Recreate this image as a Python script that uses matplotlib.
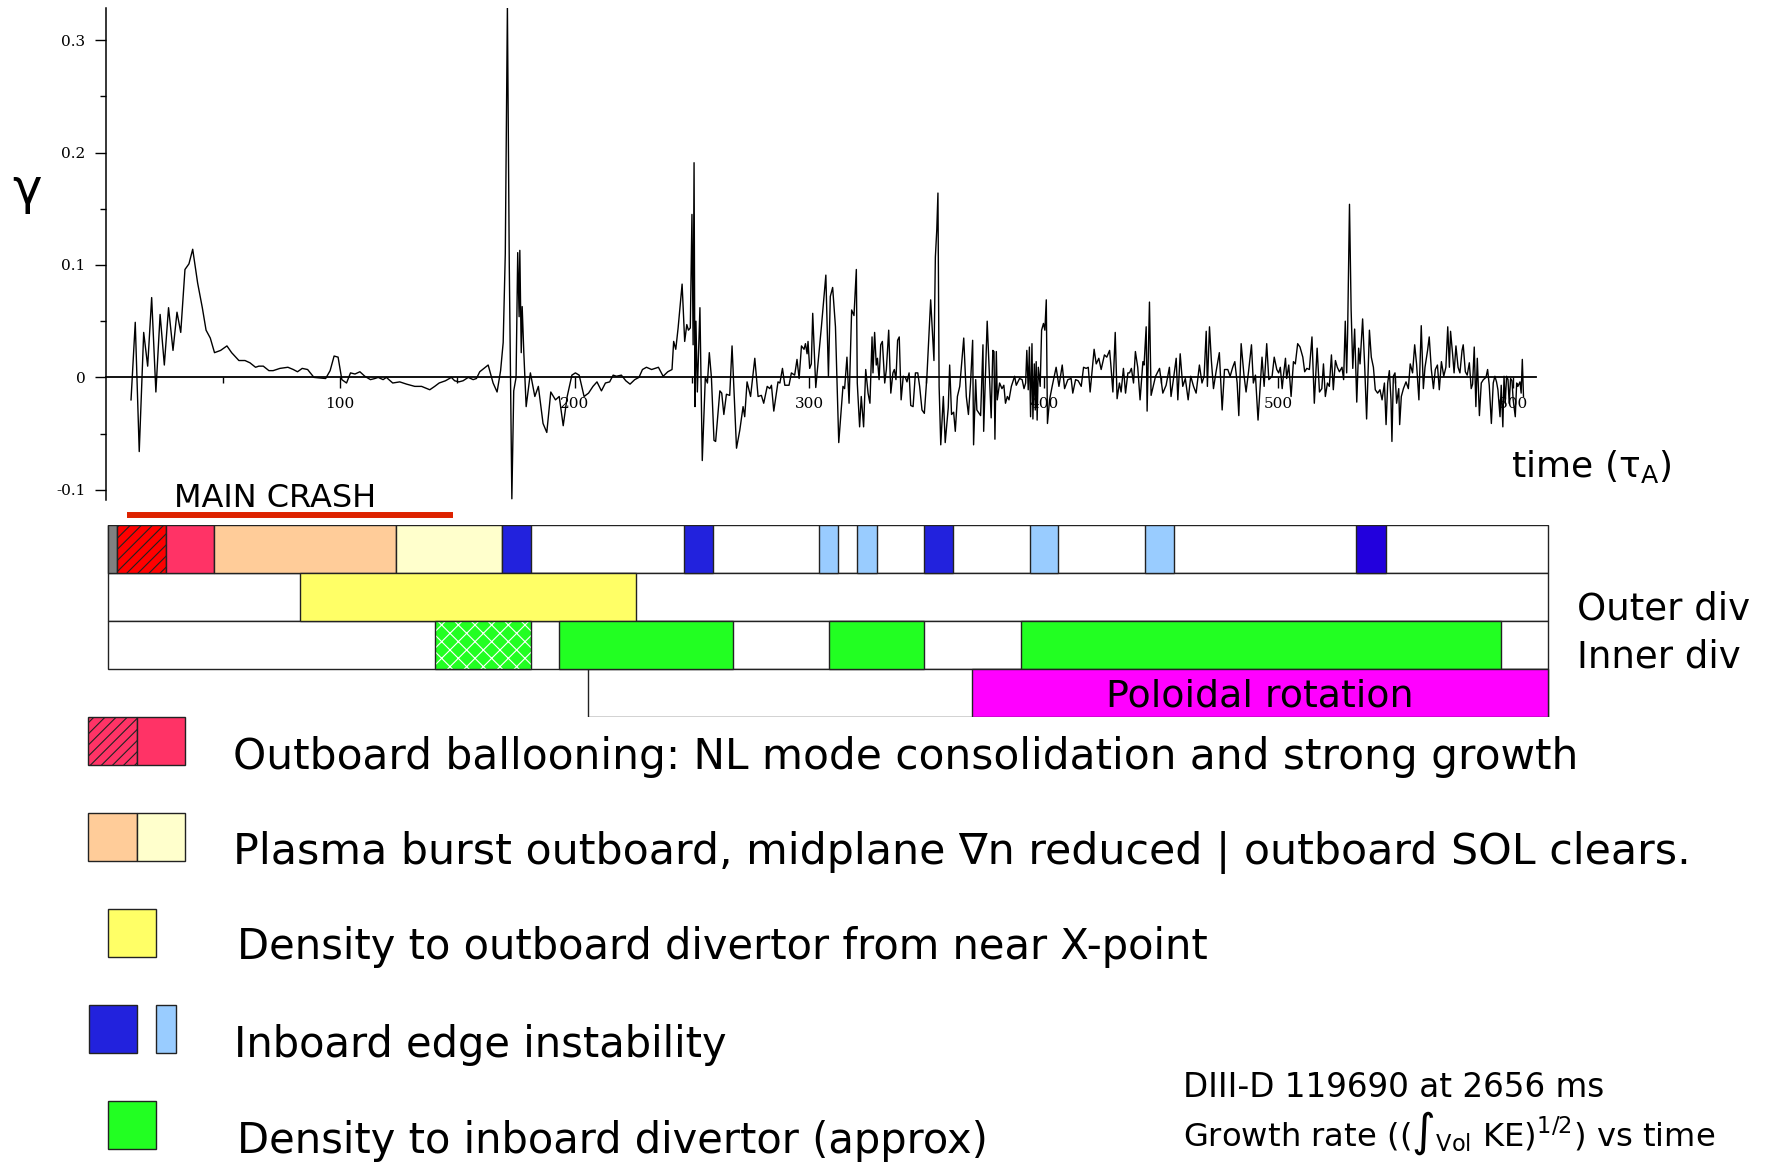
import matplotlib
matplotlib.use("Agg")
import matplotlib.pyplot as plt
from matplotlib.patches import Rectangle

# Growth rate gamma vs time (tau_A), DIII-D 119690 at 2656 ms
time = [
    10.8, 12.6, 14.3, 16.2, 17.9, 19.6, 21.4, 23.2, 25.0, 26.8,
    28.7, 30.4, 32.0, 33.8, 35.5, 37.1, 39.2, 41.2, 42.8, 44.6,
    46.4, 49.0, 51.7, 53.7, 56.8, 59.4, 61.5, 63.9, 65.3, 67.2,
    69.6, 71.4, 74.3, 77.7, 80.0, 81.8, 83.8, 86.1, 88.8, 93.8,
    95.7, 97.4, 99.1, 100.7, 102.7, 104.4, 106.3, 108.4, 110.5, 112.9,
    114.8, 116.2, 118.3, 119.7, 122.4, 125.4, 128.3, 131.8, 134.7, 138.2,
    140.3, 142.2, 144.9, 147.4, 148.8, 150.6, 152.4, 154.6, 156.7, 158.1,
    159.5, 163.1, 165.2, 166.9, 168.4, 169.5, 170.4, 171.3, 172.1, 173.2,
    174.0, 175.0, 175.7, 176.3, 176.6, 177.2, 177.6, 178.3, 179.3, 181.1,
    183.0, 184.5, 186.5, 188.1, 189.8, 191.8, 193.4, 195.1, 196.8, 198.8,
    200.3, 201.9, 204.0, 205.9, 207.8, 209.5, 211.4, 213.1, 214.9, 216.4,
    217.8, 219.9, 221.8, 223.6, 225.6, 227.4, 228.9, 230.6, 232.8, 235.7,
    237.7, 239.7, 241.5, 242.2, 243.1, 244.1, 245.8, 246.9, 247.8, 248.5,
    249.3, 250.0, 250.5, 250.9, 251.3, 251.7, 252.3, 253.4, 254.4, 255.7,
    256.6, 257.4, 258.3, 259.4, 260.1, 261.9, 262.7, 263.6, 264.7, 266.1,
    267.1, 269.0, 270.4, 271.8, 272.5, 273.5, 275.0, 276.8, 278.2, 279.6,
    280.6, 282.1, 283.2, 283.9, 284.9, 286.7, 287.5, 288.6, 289.6, 291.4,
    292.4, 293.8, 294.8, 295.7, 296.7, 297.8, 298.4, 299.1, 299.5, 300.2,
    300.9, 301.5, 302.8, 305.2, 307.1, 308.2, 309.0, 310.0, 311.2, 312.6,
    314.4, 315.1, 316.1, 317.0, 318.1, 319.1, 320.1, 320.5, 321.5, 322.2,
    323.2, 324.1, 325.1, 325.9, 326.8, 327.2, 327.9, 328.6, 329.1, 329.8,
    330.5, 331.2, 332.2, 332.9, 333.9, 334.8, 335.7, 336.3, 337.0, 337.7,
    338.4, 339.2, 340.1, 341.0, 341.7, 342.6, 343.3, 344.3, 345.3, 346.3,
    347.1, 348.1, 349.1, 350.2, 351.8, 353.2, 353.8, 354.4, 354.9, 355.4,
    356.1, 357.2, 358.0, 359.3, 359.9, 360.7, 361.6, 362.3, 363.2, 364.2,
    365.9, 367.0, 367.9, 368.8, 369.7, 370.1, 371.0, 371.5, 373.1, 374.1,
    374.4, 375.9, 377.6, 378.3, 378.8, 379.2, 379.8, 380.2, 381.2, 382.2,
    383.0, 383.7, 384.5, 385.2, 386.2, 387.6, 388.3, 389.7, 390.8, 391.6,
    392.3, 392.8, 393.4, 393.9, 394.4, 395.0, 395.4, 396.0, 396.4, 396.8,
    397.2, 397.7, 398.5, 399.1, 399.9, 400.5, 401.1, 401.6, 402.5, 403.6,
    405.3, 406.5, 407.9, 408.9, 410.3, 411.7, 412.4, 413.6, 414.7, 416.0,
    417.0, 418.1, 419.0, 419.8, 421.5, 422.4, 423.5, 424.5, 425.9, 426.9,
    428.1, 428.6, 429.5, 430.5, 431.3, 432.3, 433.0, 434.0, 434.9, 435.9,
    436.6, 437.4, 438.3, 439.1, 440.1, 441.1, 442.3, 442.8, 443.7, 444.1,
    445.1, 445.8, 446.7, 447.7, 449.4, 450.8, 452.2, 453.6, 454.3, 455.3,
    456.5, 457.2, 458.2, 459.3, 460.4, 461.6, 462.7, 463.9, 465.0, 466.4,
    467.5, 468.4, 469.3, 469.8, 470.7, 471.5, 472.4, 473.5, 474.9, 476.1,
    477.1, 478.5, 479.5, 480.6, 481.5, 482.5, 483.2, 484.2, 485.4, 486.3,
    487.4, 488.6, 489.4, 490.3, 491.4, 493.1, 494.0, 495.1, 496.0, 497.4,
    498.3, 499.4, 500.2, 500.9, 501.7, 502.2, 503.1, 503.6, 504.5, 505.5,
    506.5, 507.3, 508.3, 509.3, 510.5, 511.3, 512.2, 513.3, 514.4, 515.4,
    516.6, 517.6, 518.6, 519.3, 520.1, 521.0, 521.8, 522.7, 523.5, 524.4,
    525.2, 526.1, 527.2, 527.9, 528.6, 529.2, 529.6, 530.4, 531.1, 531.8,
    532.6, 533.5, 534.3, 534.9, 536.0, 536.9, 537.7, 538.9, 539.7, 540.6,
    541.4, 542.4, 543.4, 544.3, 545.3, 546.0, 546.7, 547.4, 548.1, 548.5,
    549.1, 549.8, 550.5, 551.4, 551.8, 552.5, 553.4, 554.5, 555.5, 556.3,
    557.3, 558.2, 559.0, 560.0, 561.0, 561.9, 562.6, 563.7, 564.4, 565.3,
    566.2, 567.0, 567.9, 568.7, 569.6, 570.6, 571.5, 572.3, 573.0, 573.5,
    574.4, 575.0, 575.8, 576.7, 577.5, 578.4, 578.9, 579.8, 580.6, 581.5,
    582.3, 582.9, 583.6, 584.3, 584.9, 585.8, 586.6, 587.5, 588.6, 589.3,
    590.0, 590.9, 591.7, 592.4, 593.1, 593.7, 594.6, 595.1, 595.8, 596.3,
    596.8, 597.4, 598.0, 598.5, 599.1, 599.7, 600.2, 601.1, 601.7, 602.2,
    603.1, 603.6, 604.1, 604.6,
]
gamma = [
    -0.020, 0.049, -0.066, 0.040, 0.010, 0.071, -0.013, 0.056, 0.011, 0.062,
    0.024, 0.058, 0.040, 0.096, 0.101, 0.114, 0.084, 0.062, 0.042, 0.035,
    0.022, 0.024, 0.028, 0.022, 0.015, 0.015, 0.013, 0.009, 0.010, 0.010,
    0.006, 0.006, 0.008, 0.009, 0.007, 0.005, 0.008, 0.007, 0.000, -0.001,
    0.006, 0.019, 0.018, -0.002, -0.005, 0.004, 0.003, 0.005, 0.001, -0.002,
    -0.001, 0.000, -0.002, 0.000, -0.005, -0.004, -0.006, -0.008, -0.008, -0.011,
    -0.008, -0.005, -0.003, 0.000, -0.003, -0.004, -0.003, 0.000, -0.002, -0.001,
    0.005, 0.011, -0.005, -0.013, 0.006, 0.031, 0.110, 0.330, 0.100, -0.108,
    -0.012, 0.000, 0.111, 0.054, 0.113, 0.022, 0.063, 0.022, -0.026, 0.004,
    -0.017, -0.008, -0.041, -0.049, -0.013, -0.020, -0.017, -0.043, -0.017, 0.002,
    0.004, 0.002, -0.017, -0.014, -0.008, -0.004, -0.012, -0.005, -0.004, 0.002,
    0.001, 0.002, -0.003, -0.006, -0.002, 0.000, 0.007, 0.009, 0.007, 0.009,
    0.001, 0.005, 0.007, 0.032, 0.025, 0.044, 0.083, 0.032, 0.047, 0.042,
    0.044, 0.145, 0.029, 0.191, -0.026, 0.050, -0.013, 0.062, -0.074, 0.000,
    -0.005, 0.022, 0.000, -0.056, -0.057, -0.012, -0.014, -0.033, -0.015, -0.016,
    0.028, -0.063, -0.047, -0.026, -0.035, -0.004, -0.017, 0.017, -0.017, -0.016,
    -0.023, -0.008, -0.010, -0.007, -0.030, -0.004, -0.005, 0.008, -0.007, -0.007,
    0.004, 0.002, 0.016, -0.001, 0.028, 0.025, 0.030, 0.021, 0.032, 0.008,
    0.012, 0.057, -0.009, 0.045, 0.091, 0.001, 0.072, 0.080, 0.045, -0.058,
    -0.008, -0.010, 0.018, -0.023, 0.060, 0.055, 0.096, -0.005, -0.044, -0.017,
    -0.044, 0.007, -0.014, -0.023, 0.036, 0.004, 0.040, 0.011, 0.017, -0.002,
    0.029, 0.032, -0.005, 0.007, 0.042, -0.014, 0.004, 0.007, -0.002, 0.033,
    0.036, -0.020, 0.001, 0.000, -0.004, 0.004, -0.025, -0.026, 0.004, 0.004,
    -0.008, -0.029, -0.032, 0.001, 0.069, 0.015, 0.107, 0.131, 0.164, -0.008,
    -0.060, -0.017, -0.058, -0.027, 0.011, -0.033, -0.031, -0.048, -0.017, -0.008,
    0.035, -0.017, -0.033, -0.005, 0.033, -0.060, -0.002, -0.029, -0.034, 0.029,
    -0.048, 0.050, -0.036, 0.024, 0.023, -0.055, 0.023, -0.020, -0.005, -0.010,
    -0.007, -0.023, -0.017, -0.020, -0.008, 0.001, -0.007, -0.001, -0.002, -0.010,
    -0.005, 0.024, -0.011, 0.027, -0.035, 0.030, -0.037, 0.012, -0.029, 0.014,
    -0.038, 0.009, -0.008, 0.042, 0.048, 0.042, 0.069, -0.041, -0.020, -0.008,
    0.009, -0.008, 0.011, -0.010, -0.002, -0.001, -0.014, -0.002, -0.003, -0.008,
    0.009, 0.008, 0.009, -0.013, 0.025, 0.012, 0.017, 0.007, 0.020, 0.018,
    0.024, 0.012, -0.013, 0.040, -0.019, -0.005, -0.013, 0.008, -0.014, 0.004,
    0.004, 0.008, -0.005, 0.023, 0.009, -0.020, 0.014, 0.011, 0.045, -0.030,
    0.067, -0.016, -0.008, 0.001, 0.008, -0.014, -0.007, 0.009, -0.017, -0.002,
    0.017, -0.020, 0.021, -0.008, -0.001, -0.020, 0.001, -0.008, -0.014, 0.011,
    -0.005, 0.001, 0.041, -0.008, 0.045, 0.015, -0.010, 0.005, 0.022, -0.029,
    0.007, 0.007, 0.001, 0.009, 0.014, -0.005, -0.034, 0.030, 0.002, -0.013,
    0.006, 0.029, -0.005, 0.002, -0.038, 0.018, -0.008, 0.030, -0.002, 0.001,
    0.018, 0.007, 0.004, 0.009, -0.010, 0.001, 0.017, -0.001, 0.011, -0.017,
    0.014, 0.012, 0.030, 0.027, 0.018, 0.005, 0.008, 0.007, 0.036, -0.023,
    0.026, -0.013, -0.010, 0.012, -0.017, -0.005, -0.008, 0.020, -0.011, 0.015,
    0.009, 0.005, 0.009, -0.002, 0.050, 0.004, 0.039, 0.154, 0.060, 0.008,
    0.043, -0.022, 0.026, 0.012, 0.052, 0.009, -0.037, 0.042, 0.018, 0.009,
    -0.011, -0.014, -0.011, -0.020, -0.005, -0.042, -0.005, 0.006, -0.020, -0.057,
    0.001, 0.004, -0.023, -0.010, -0.042, -0.017, -0.010, -0.004, -0.010, 0.012,
    0.004, 0.029, 0.012, -0.020, 0.046, -0.010, 0.009, 0.024, 0.036, 0.007,
    -0.010, 0.007, 0.011, -0.011, 0.014, 0.001, 0.009, 0.045, 0.009, 0.041,
    0.020, 0.004, 0.028, 0.009, 0.004, 0.024, 0.029, 0.005, 0.002, 0.013,
    -0.010, -0.006, 0.027, -0.026, 0.017, -0.034, -0.005, -0.002, 0.000, 0.007,
    -0.007, -0.041, -0.005, 0.001, -0.004, -0.011, -0.035, -0.007, -0.044, 0.001,
    -0.023, 0.001, -0.002, -0.023, -0.001, -0.003, -0.020, -0.035, -0.005, -0.008,
    -0.004, -0.014, 0.016, -0.017,
]

# event timeline, (start, end) in tau_A
crash_span = (9.0, 148.0)
timeline_start = 0.8
timeline_end = 615.0
rotation_row_start = 205.7
startup = [(0.8, 5.0)]
ballooning_nl = [(5.0, 25.8)]
ballooning = [(25.8, 46.1)]
plasma_burst = [(46.1, 123.9)]
sol_clears = [(123.9, 169.0)]
inboard_edge = [(169.0, 181.2), (246.6, 259.0), (348.9, 361.4)]
inboard_edge_late = [(533.2, 545.8)]
inboard_edge_weak = [(304.1, 312.2), (320.5, 329.0), (394.2, 406.3), (443.3, 455.4)]
outer_div = [(83.0, 226.3)]
inner_div_onset = [(140.3, 181.2)]
inner_div = [(193.4, 267.4), (308.3, 348.9), (390.2, 594.9)]
rotation = [(369.6, 615.0)]

legend_labels = [
    "Outboard ballooning: NL mode consolidation and strong growth",
    "Plasma burst outboard, midplane \u2207n reduced | outboard SOL clears.",
    "Density to outboard divertor from near X-point",
    "Inboard edge instability",
    "Density to inboard divertor (approx)",
]

plt.rcParams["font.family"] = ["DejaVu Sans"]
plt.rcParams["mathtext.fontset"] = "dejavusans"
plt.rcParams["hatch.linewidth"] = 0.8

W, H = 1772, 1162
fig = plt.figure(figsize=(W / 100, H / 100), dpi=100)
fig.patch.set_facecolor("white")

EDGE = "#222222"
PX_PER_T = 2.345
X0 = 105.7
XMAX = 620


def px_box(left, top, right, bottom):
    return [left / W, 1 - bottom / H, (right - left) / W, (bottom - top) / H]


# ---- growth rate trace ----
ax = fig.add_axes(px_box(X0, 7.6, X0 + XMAX * PX_PER_T, 499.9))
ax.set_facecolor("none")
ax.plot(time, gamma, color="black", lw=1.0)
ax.set_xlim(0, XMAX)
ax.set_ylim(-0.109, 0.329)
for s in ("top", "right"):
    ax.spines[s].set_visible(False)
ax.spines["bottom"].set_position(("data", 0))
ax.spines["bottom"].set_bounds(0, 610)
ax.spines["bottom"].set_linewidth(1.3)
ax.spines["left"].set_linewidth(1.1)
ax.set_xticks([100, 200, 300, 400, 500, 600])
ax.set_xticks([50, 150, 250, 350, 450, 550], minor=True)
ax.set_yticks([-0.1, 0, 0.1, 0.2, 0.3])
ax.set_yticklabels(["-0.1", "0", "0.1", "0.2", "0.3"])
ax.set_yticks([-0.05, 0.05, 0.15, 0.25], minor=True)
ax.tick_params(which="major", length=7.7, width=1.0, labelsize=11,
               labelfontfamily="DejaVu Serif")
ax.tick_params(which="minor", length=4, width=1.0)
ax.tick_params(axis="x", which="major", pad=6.5)
ax.tick_params(axis="y", which="major", pad=7)

# ---- event timeline ----
axb = fig.add_axes(px_box(X0, 525, X0 + XMAX * PX_PER_T, 717))
axb.set_xlim(0, XMAX)
axb.set_ylim(4, 0)
axb.axis("off")


def span(row, segs, color, hatch=None, hatch_color=None):
    for start, end in segs:
        if hatch_color is not None:
            axb.add_patch(Rectangle((start, row), end - start, 1, facecolor=color,
                                    edgecolor=hatch_color, hatch=hatch, lw=0))
            axb.add_patch(Rectangle((start, row), end - start, 1, facecolor="none",
                                    edgecolor=EDGE, lw=1.0))
        else:
            axb.add_patch(Rectangle((start, row), end - start, 1, facecolor=color,
                                    edgecolor=EDGE, hatch=hatch, lw=1.0))


for row in range(3):
    span(row, [(timeline_start, timeline_end)], "white")
span(3, [(rotation_row_start, timeline_end)], "white")

span(0, startup, "#808080")
span(0, ballooning_nl, "#FF0000", hatch="///")
span(0, ballooning, "#FF3366")
span(0, plasma_burst, "#FFCC99")
span(0, sol_clears, "#FFFFCC")
span(0, inboard_edge, "#2222DD")
span(0, inboard_edge_late, "#2200DD")
span(0, inboard_edge_weak, "#99CCFF")
span(1, outer_div, "#FFFF66")
span(2, inner_div_onset, "#22FF22", hatch="xx", hatch_color="white")
span(2, inner_div, "#22FF22")
span(3, rotation, "#FF00FF")

axb.text((rotation[0][0] + rotation[0][1]) / 2, 3.79, "Poloidal rotation",
         ha="center", va="baseline", fontsize=27.3)

axb.plot(crash_span, [-0.2, -0.2], color="#DD2200", lw=4.3,
         solid_capstyle="butt", clip_on=False)
axb.text(72.2, -0.37, "MAIN CRASH", ha="center", va="baseline",
         fontsize=23, clip_on=False)

# ---- labels and legend ----
ov = fig.add_axes([0, 0, 1, 1])
ov.set_facecolor("none")
ov.set_xlim(0, W)
ov.set_ylim(H, 0)
ov.axis("off")

ov.text(27, 190, "\u03b3", ha="center", va="center", fontsize=36)
ov.text(1511, 477, "time (\u03c4$_\\mathregular{A}$)", ha="left", va="baseline",
        fontsize=26)
ov.text(1577, 619.5, "Outer div", ha="left", va="baseline", fontsize=26.7)
ov.text(1577, 667.0, "Inner div", ha="left", va="baseline", fontsize=26.7)


def swatch(x0, x1, y0, y1, color, hatch=None):
    ov.add_patch(Rectangle((x0, y0), x1 - x0, y1 - y0, facecolor=color,
                           edgecolor=EDGE, hatch=hatch, lw=1.0))


swatch(88.3, 137.0, 716.7, 765.3, "#FF3366", hatch="///")
swatch(137.0, 185.0, 716.7, 765.3, "#FF3366")
swatch(88.3, 137.0, 813.3, 861.3, "#FFCC99")
swatch(137.0, 185.0, 813.3, 861.3, "#FFFFCC")
swatch(107.7, 156.3, 909.0, 957.3, "#FFFF66")
swatch(88.7, 137.0, 1005.0, 1053.3, "#2222DD")
swatch(155.7, 175.7, 1005.0, 1053.3, "#99CCFF")
swatch(107.7, 156.3, 1101.0, 1149.3, "#22FF22")

legend_xy = [(233, 769.5), (233, 864.5), (237, 959.5), (234, 1057.0), (237, 1153.0)]
legend_size = [30.4, 30.8, 30.0, 30.0, 30.0]
for (x, y), size, label in zip(legend_xy, legend_size, legend_labels):
    ov.text(x, y, label, ha="left", va="baseline", fontsize=size)

ov.text(1183, 1096.7, "DIII-D 119690 at 2656 ms", ha="left", va="baseline",
        fontsize=23.5)
ov.text(1183, 1145.5,
        "Growth rate ((\u222b$_\\mathregular{Vol}$ KE)$^{\\mathregular{1/2}}$) vs time",
        ha="left", va="baseline", fontsize=23.2)

fig.savefig("out.png", dpi=100)
